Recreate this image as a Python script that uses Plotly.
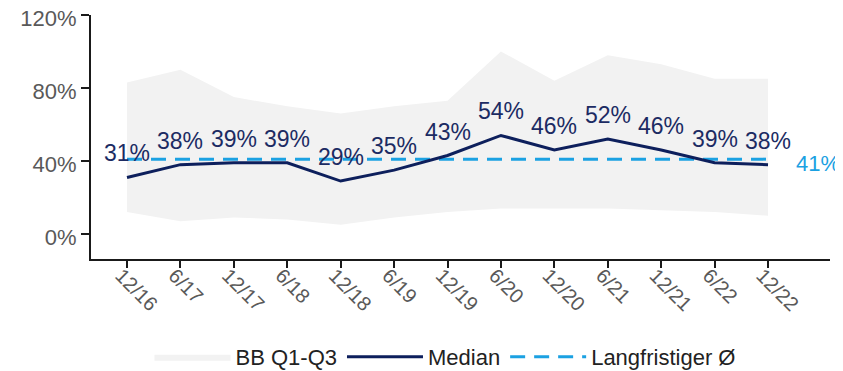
import plotly.graph_objects as go

categories = ["12/16", "6/17", "12/17", "6/18", "12/18", "6/19", "12/19",
              "6/20", "12/20", "6/21", "12/21", "6/22", "12/22"]
q1 = [12, 7, 9, 8, 5, 9, 12, 14, 14, 14, 13, 12, 10]
q3 = [83, 90, 75, 70, 66, 70, 73, 100, 84, 98, 93, 85, 85]
median = [31, 38, 39, 39, 29, 35, 43, 54, 46, 52, 46, 39, 38]
long_term_avg = 41
y_tick_values = [0, 40, 80, 120]
y_tick_labels = ["0%", "40%", "80%", "120%"]

FONT = "Liberation Sans, Arial, sans-serif"
NAVY = "#0d1f5c"
LABEL_NAVY = "#1c2b63"
BLUE = "#1ba1e2"
GREY_TXT = "#595959"

# the page body has an 8px default margin: the figure is sized to fill the rest of the window
OFF = 8
W, H = 843 - OFF, 371 - OFF

fig = go.Figure()
fig.add_trace(go.Scatter(x=categories, y=q1, mode="lines", line=dict(width=0, color="#f2f2f2"),
                         showlegend=False, hoverinfo="skip"))
fig.add_trace(go.Scatter(x=categories, y=q3, mode="lines", line=dict(width=0, color="#f2f2f2"),
                         fill="tonexty", fillcolor="#f2f2f2", name="BB Q1-Q3", legendrank=1))
fig.add_trace(go.Scatter(x=categories, y=[long_term_avg] * len(categories), mode="lines",
                         line=dict(color=BLUE, width=3, dash="15px,9px"), name="Langfristiger Ø",
                         legendrank=3))
fig.add_trace(go.Scatter(x=categories, y=median, mode="lines",
                         line=dict(color=NAVY, width=3), name="Median", legendrank=2))

for c, v in zip(categories, median):
    fig.add_annotation(x=c, y=v, text=f"{v}%", showarrow=False, yshift=24,
                       font=dict(family=FONT, size=23, color=LABEL_NAVY))

fig.add_annotation(x=12.48, y=long_term_avg, text=f"{long_term_avg}%", showarrow=False,
                   xanchor="left", yshift=-4, font=dict(family=FONT, size=22, color=BLUE))

fig.update_layout(
    width=W, height=H,
    margin=dict(l=91 - OFF, r=13, t=15 - OFF, b=112, autoexpand=False),
    paper_bgcolor="white", plot_bgcolor="white",
    font=dict(family=FONT, size=20, color=GREY_TXT),
    legend=dict(orientation="h", xref="container", x=(445 - OFF) / W, xanchor="center",
                yref="container", y=(371 - 357) / H, yanchor="middle",
                font=dict(family=FONT, size=22, color="#222222"), itemwidth=76,
                traceorder="normal"),
)
fig.update_xaxes(type="category", range=[-0.674, 13.16], showgrid=False, zeroline=False,
                 showline=True, linecolor="#1a1a1a", linewidth=2, automargin=False,
                 ticks="outside", ticklen=7, tickwidth=2, tickcolor="#1a1a1a",
                 tickangle=45, ticklabelstandoff=-12, ticklabelshift=-6,
                 tickfont=dict(family=FONT, size=20, color=GREY_TXT))
fig.update_yaxes(range=[-13.7, 120], tickmode="array", tickvals=y_tick_values, ticktext=y_tick_labels,
                 showgrid=False, zeroline=False, showline=True, linecolor="#1a1a1a", linewidth=2,
                 automargin=False, ticklabeloverflow="allow", ticklabelshift=3,
                 ticks="outside", ticklen=8, tickwidth=2, tickcolor="#1a1a1a",
                 tickfont=dict(family=FONT, size=22, color=GREY_TXT))

fig.write_html("out.html")
